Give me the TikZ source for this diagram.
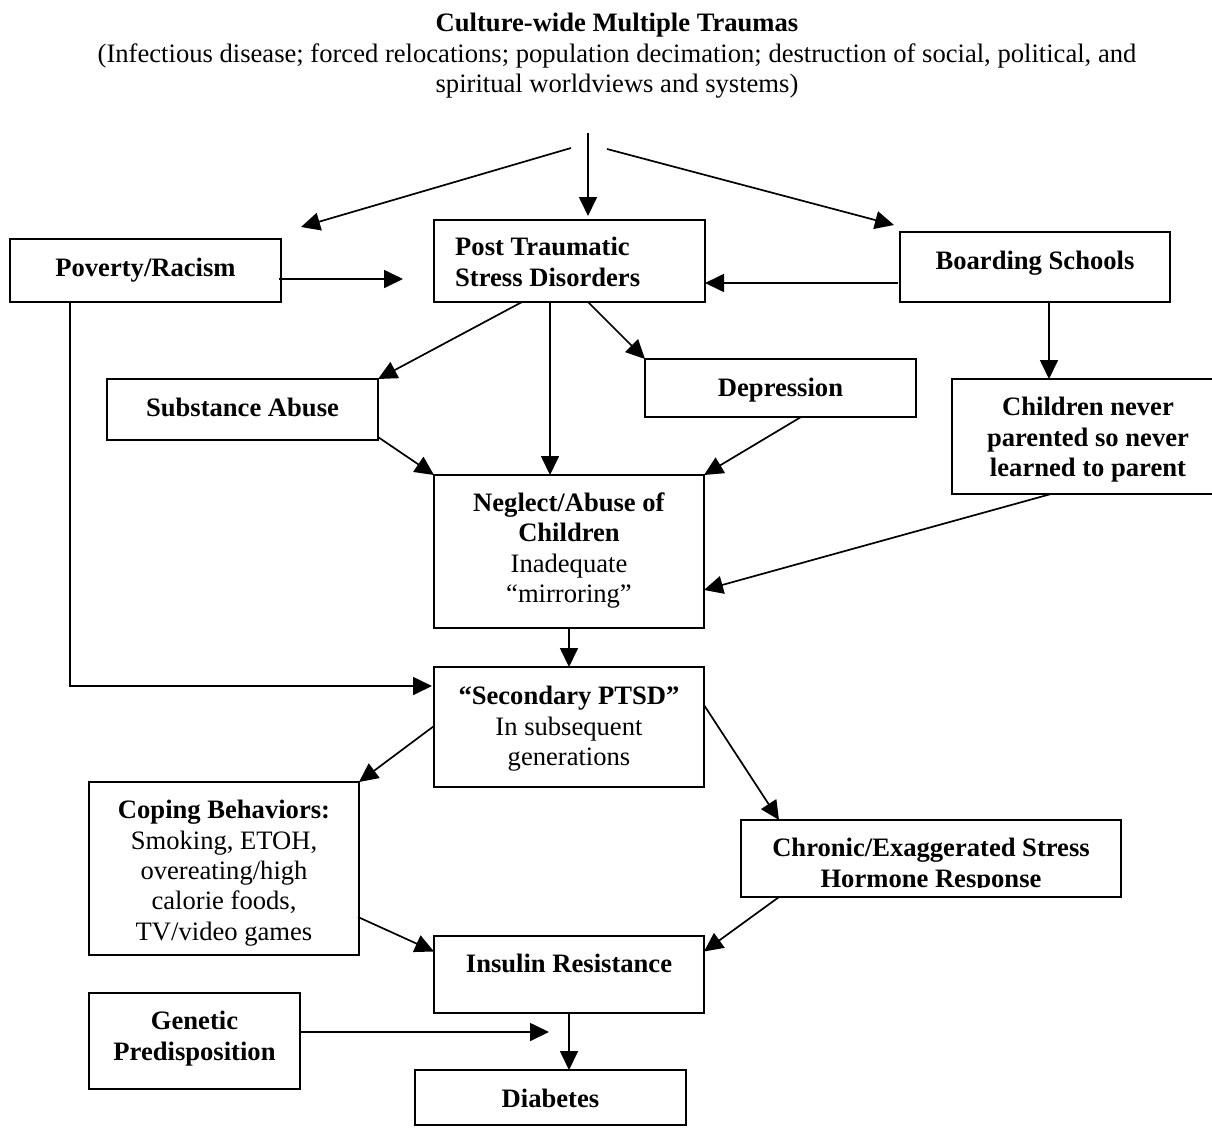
\documentclass[tikz,border=0pt]{standalone}
\usepackage{fontspec}
\setmainfont{Liberation Serif}
\usetikzlibrary{arrows.meta,calc}
\newcommand\fs{\fontsize{26.6}{30.3}\selectfont}
\begin{document}
\begin{tikzpicture}[x=1pt,y=-1pt,
  box/.style={draw, line width=1.7pt, rectangle, inner sep=0pt, outer sep=0pt},
  txt/.style={font=\fs, align=center, inner sep=0pt},
  conn/.style={line width=1.7pt, -{Triangle[length=19pt,width=18pt]}}]
\useasboundingbox (0,0) rectangle (1212,1127);

% title
\node[txt] (title) at (617,56) {\strut\textbf{Culture-wide Multiple Traumas}\\(Infectious disease; forced relocations; population decimation; destruction of social, political, and\\spiritual worldviews and systems)\strut};

% boxes
\node[box, minimum width=271pt, minimum height=63pt] (poverty) at (145.5,270.5) {};
\node[box, minimum width=271pt, minimum height=82pt] (ptsd) at (569.5,261) {};
\node[box, minimum width=270pt, minimum height=70pt] (boarding) at (1035,267) {};
\node[box, minimum width=271pt, minimum height=61pt] (substance) at (242.5,409.5) {};
\node[box, minimum width=271pt, minimum height=58pt] (depression) at (780.5,388) {};
\node[box, minimum width=272pt, minimum height=115pt] (children) at (1088,436.5) {};
\node[box, minimum width=270pt, minimum height=153pt] (neglect) at (569,551.5) {};
\node[box, minimum width=270pt, minimum height=120pt] (secondary) at (569,727) {};
\node[box, minimum width=270pt, minimum height=173pt] (coping) at (224,868.5) {};
\node[box, minimum width=380pt, minimum height=77pt] (chronic) at (931,858.5) {};
\node[box, minimum width=270pt, minimum height=77pt] (insulin) at (569,974.5) {};
\node[box, minimum width=211pt, minimum height=96pt] (genetic) at (194.5,1041) {};
\node[box, minimum width=271pt, minimum height=55pt] (diabetes) at (550.5,1097.5) {};

% texts
\node[txt] (povertyT) at (145.5,270) {\strut\textbf{Poverty/Racism}};
\node[txt, anchor=west, align=left] (ptsdT) at (455,265) {\strut\textbf{Post Traumatic}\\\textbf{Stress Disorders}\strut};
\node[txt] (boardingT) at (1035,263) {\strut\textbf{Boarding Schools}};
\node[txt] (substanceT) at (242.5,410) {\strut\textbf{Substance Abuse}};
\node[txt] (depressionT) at (780.5,390) {\strut\textbf{Depression}};
\node[txt] (childrenT) at (1088,440) {\strut\textbf{Children never}\\\textbf{parented so never}\\\textbf{learned to parent}\strut};
\node[txt] (neglectT) at (569,551) {\strut\textbf{Neglect/Abuse of}\\\textbf{Children}\\Inadequate\\“mirroring”\strut};
\node[txt] (secondaryT) at (569,729) {\strut\textbf{“Secondary PTSD”}\\In subsequent\\generations\strut};
\node[txt] (copingT) at (224,873.5) {\strut\textbf{Coping Behaviors:}\\Smoking, ETOH,\\overeating/high\\calorie foods,\\TV/video games\strut};
\begin{scope}
\clip (741,820) rectangle (1121,887);
\node[txt] (chronicT) at (931,866) {\strut\textbf{Chronic/Exaggerated Stress}\\\textbf{Hormone Response}\strut};
\end{scope}
\node[txt] (insulinT) at (569,966) {\strut\textbf{Insulin Resistance}};
\node[txt] (geneticT) at (194.5,1039) {\strut\textbf{Genetic}\\\textbf{Predisposition}\strut};
\node[txt] (diabetesT) at (550.5,1101) {\strut\textbf{Diabetes}};

% free ends
\coordinate (topc) at (588,133);
\coordinate (topl) at (571,148);
\coordinate (topr) at (607,149);
\coordinate (gtip) at (549,1032);

% connectors
\draw[conn] (topc) -- ($(ptsd.north)+(18.5,-4)$);
\draw[conn] (topl) -- ($(poverty.north)+(155.5,-12)$);
\draw[conn] (topr) -- ($(boarding.north)+(-141,-7)$);
\draw[conn] ($(poverty.east)+(-2,8.5)$) -- ($(ptsd.west)+(-31,18)$);
\draw[conn] ($(boarding.west)+(-2,16)$) -- ($(ptsd.east)+(0,22)$);
\draw[conn] ($(boarding.south)+(14,0)$) -- ($(children.north)+(-39,0)$);
\draw[conn] ($(ptsd.south)+(-47.5,0)$) -- (substance.north east);
\draw[conn] ($(ptsd.south)+(-19.5,0)$) -- ($(neglect.north)+(-19,0)$);
\draw[conn] ($(ptsd.south)+(18.5,0)$) -- (depression.north west);
\draw[conn] ($(substance.south east)+(0,-3)$) -- (neglect.north west);
\draw[conn] ($(depression.south)+(20.5,0)$) -- (neglect.north east);
\draw[conn] ($(children.south)+(-37,0)$) -- ($(neglect.east)+(0,38.5)$);
\draw[conn] (neglect.south) -- (secondary.north);
\draw[conn] ($(poverty.south)+(-75.5,0)$) |- ($(secondary.west)+(-2,-41)$);
\draw[conn] ($(secondary.west)+(0,-1)$) -- (coping.north east);
\draw[conn] ($(secondary.east)+(0,-22)$) -- ($(chronic.north west)+(38,0)$);
\draw[conn] ($(coping.east)+(-1,48.5)$) -- ($(insulin.west)+(0,-23)$);
\draw[conn] ($(chronic.south west)+(38,0)$) -- ($(insulin.east)+(0,-23)$);
\draw[conn] ($(genetic.east)+(0,-9)$) -- (gtip);
\draw[conn] (insulin.south) -- (insulin.south |- diabetes.north);
\end{tikzpicture}
\end{document}
